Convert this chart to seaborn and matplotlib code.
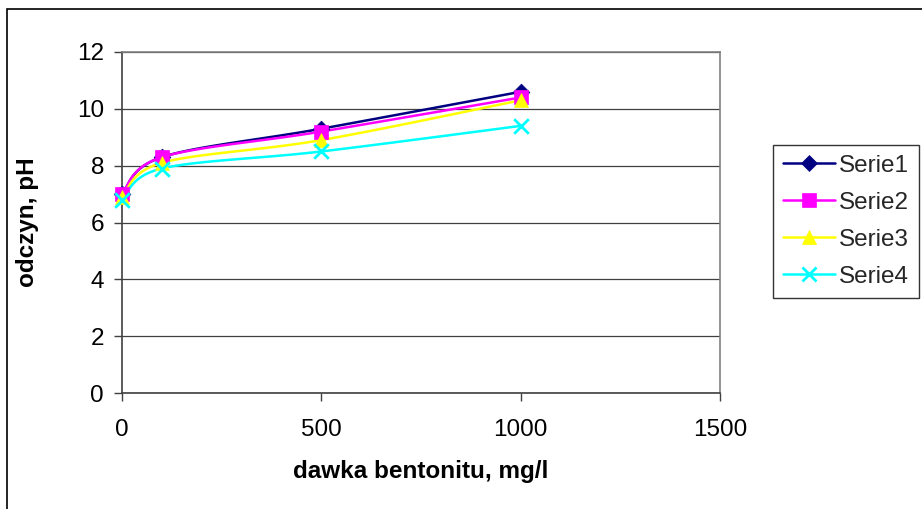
import numpy as np
import pandas as pd
import matplotlib
matplotlib.use("Agg")
import matplotlib.pyplot as plt
from matplotlib.lines import Line2D
from matplotlib.patches import Rectangle
import seaborn as sns

# Bentonite dose (mg/l) and measured pH for four series
dose = [0, 100, 500, 1000]
serie1 = [7.0, 8.3, 9.3, 10.6]
serie2 = [7.0, 8.3, 9.2, 10.4]
serie3 = [6.9, 8.1, 8.9, 10.3]
serie4 = [6.8, 7.9, 8.5, 9.4]
series_names = ["Serie1", "Serie2", "Serie3", "Serie4"]
x_ticks = [0, 500, 1000, 1500]
y_ticks = [0, 2, 4, 6, 8, 10, 12]

colors = ["#000080", "#FF00FF", "#FFFF00", "#00FFFF"]
markers = ["D", "s", "^", "x"]
msizes = [8.5, 10, 10, 10.5]

df = pd.DataFrame({
    "dose": dose * 4,
    "pH": serie1 + serie2 + serie3 + serie4,
    "series": [n for n in series_names for _ in dose],
})

sns.set_theme(style="white")
plt.rcParams["font.family"] = ["Liberation Sans", "DejaVu Sans"]

fig = plt.figure(figsize=(9.22, 5.09), dpi=100)
ax = fig.add_axes([122 / 922, 1 - 393 / 509, 598 / 922, 341 / 509])

XMAX, YMAX = 1500, 12
W, H = 598.0, 341.0


def smooth(xs, ys, n=40):
    """Cubic Bezier smoothing through the points (Catmull-Rom style, tension 1/6)."""
    p = np.column_stack([np.asarray(xs) / XMAX * W, np.asarray(ys) / YMAX * H])
    out = []
    for i in range(len(p) - 1):
        p0 = p[i - 1] if i > 0 else p[i]
        p1, p2 = p[i], p[i + 1]
        p3 = p[i + 2] if i + 2 < len(p) else p[i + 1]
        c1 = p1 + (p2 - p0) / 6.0
        c2 = p2 - (p3 - p1) / 6.0
        t = np.linspace(0, 1, n)[:, None]
        seg = ((1 - t) ** 3) * p1 + 3 * ((1 - t) ** 2) * t * c1 + 3 * (1 - t) * t ** 2 * c2 + t ** 3 * p2
        out.append(seg if i == 0 else seg[1:])
    pts = np.vstack(out)
    return pts[:, 0] / W * XMAX, pts[:, 1] / H * YMAX


for name, col in zip(series_names, colors):
    sub = df[df["series"] == name]
    sx, sy = smooth(sub["dose"].values, sub["pH"].values)
    ax.plot(sx, sy, color=col, lw=1.8, zorder=3, clip_on=False)

for name, col, mk, ms in zip(series_names, colors, markers, msizes):
    sub = df[df["series"] == name]
    sns.scatterplot(data=sub, x="dose", y="pH", ax=ax, marker=mk, s=ms ** 2,
                    color=col, edgecolor=col if mk != "x" else None,
                    linewidth=2.0 if mk == "x" else 0.5, zorder=4, legend=False,
                    clip_on=False)

ax.set_xlim(0, XMAX)
ax.set_ylim(0, YMAX)
ax.set_xticks(x_ticks)
ax.set_yticks(y_ticks)
ax.set_xticklabels([str(v) for v in x_ticks])
ax.set_yticklabels([str(v) for v in y_ticks])
ax.grid(axis="y", color="#404040", lw=0.9)
ax.grid(axis="x", visible=False)
ax.set_axisbelow(True)
for side in ["top", "right"]:
    ax.spines[side].set_color("#808080")
    ax.spines[side].set_linewidth(1.2)
for side in ["left", "bottom"]:
    ax.spines[side].set_color("#404040")
    ax.spines[side].set_linewidth(1.2)
ax.tick_params(axis="both", which="both", direction="out", length=6, width=1,
               color="#404040", labelsize=17.5, labelcolor="black",
               bottom=True, left=True, pad=7)
ax.tick_params(axis="x", pad=13)

ax.set_xlabel("dawka bentonitu, mg/l", fontsize=17.5, fontweight="bold",
              labelpad=13.5, color="black")
ax.set_ylabel("odczyn, pH", fontsize=17.5, fontweight="bold",
              labelpad=27, color="black")

# Outer chart frame
fig.patches.append(Rectangle((7 / 922, -0.01), 1.02, 1 - 9 / 509 + 0.01,
                             transform=fig.transFigure, fill=False,
                             edgecolor="black", lw=1.2))

handles = [Line2D([0], [0], color=c, lw=1.8, marker=m, markersize=s,
                  markerfacecolor=c, markeredgecolor=c,
                  markeredgewidth=2.0 if m == "x" else 0.5)
           for c, m, s in zip(colors, markers, msizes)]
leg = fig.legend(handles, series_names, loc="upper left",
                 bbox_to_anchor=(773 / 922, 1 - 145 / 509),
                 frameon=True, fancybox=False, fontsize=17.5, handlelength=2.15,
                 handletextpad=0.18, labelspacing=0.62, borderpad=0.4,
                 borderaxespad=0)
leg.get_frame().set_edgecolor("black")
leg.get_frame().set_linewidth(1.0)

fig.savefig("out.png", dpi=100)
